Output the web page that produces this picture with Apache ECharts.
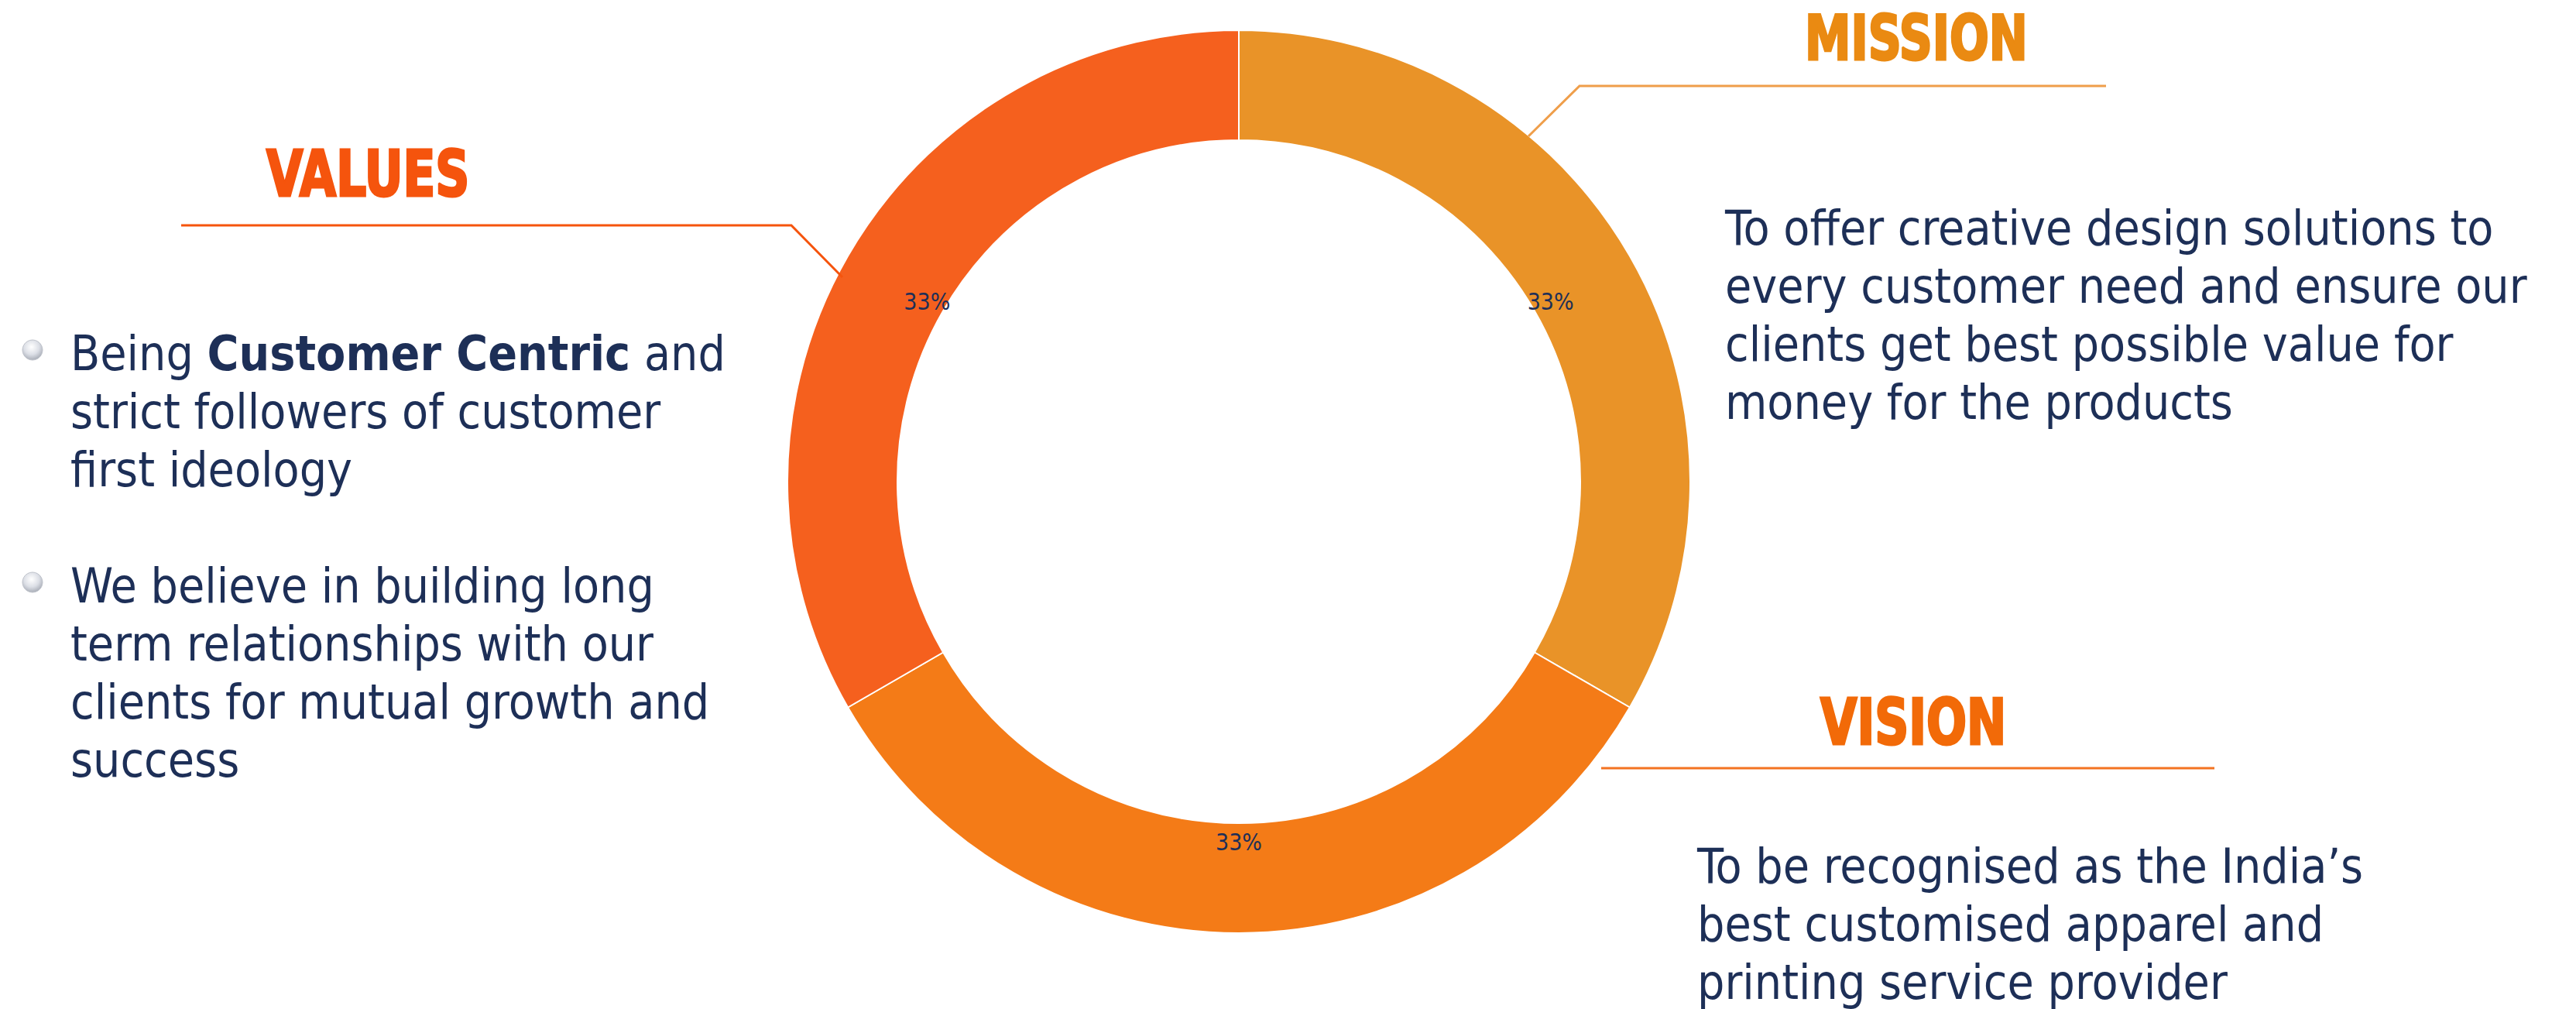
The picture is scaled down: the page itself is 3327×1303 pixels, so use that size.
<!DOCTYPE html>
<html><head><meta charset="utf-8">
<script src="https://cdn.jsdelivr.net/npm/echarts@6/dist/echarts.min.js"></script>
<style>html,body{margin:0;padding:0;background:#fff}#c{width:3327px;height:1303px}</style>
</head><body><div id="c"></div>
<script>
// ---- data ----
const categories = ['MISSION', 'VISION', 'VALUES'];
const shares = [1, 1, 1];
const sliceColors = ['#E99328', '#F47B17', '#F5601E'];
const headingColors = ['#EA8A12', '#F26A08', '#F5540D'];
const missionLines = [
  'To offer creative design solutions to',
  'every customer need and ensure our',
  'clients get best possible value for',
  'money for the products'
];
const visionLines = [
  'To be recognised as the India\u2019s',
  'best customised apparel and',
  'printing service provider'
];
const valuesParagraphs = [
  ['Being {b|Customer Centric} and', 'strict followers of customer', 'first ideology'],
  ['We believe in building long', 'term relationships with our', 'clients for mutual growth and', 'success']
];

// ---- rendering ----
const FONT = "'DejaVu Sans Condensed','Liberation Sans Narrow','DejaVu Sans',sans-serif";
const TEXT_COLOR = '#1D2F57';
const BODY_SIZE = 62;
const LINE_H = 75;
const total = shares.reduce((a, b) => a + b, 0);

const chart = echarts.init(document.getElementById('c'), null, { renderer: 'svg' });

const graphics = [];
function heading(txt, x, y, color, size) {
  graphics.push({
    type: 'text', x: x, y: y, scaleX: 0.83, z: 10,
    style: { text: txt, fill: color, stroke: color, lineWidth: 3, fontFamily: FONT, fontWeight: 'bold', fontSize: size,
      lineHeight: 64, align: 'left', verticalAlign: 'middle' }
  });
}
function lines(arr, x, y0) {
  arr.forEach((t, i) => {
    graphics.push({
      type: 'text', x: x, y: y0 + i * LINE_H, z: 10,
      style: {
        text: t, fill: TEXT_COLOR, fontFamily: FONT, fontSize: BODY_SIZE, lineHeight: 58, align: 'left', verticalAlign: 'middle',
        rich: { b: { fill: TEXT_COLOR, fontFamily: FONT, fontSize: BODY_SIZE, lineHeight: 58, fontWeight: 'bold' } }
      }
    });
  });
}
function rule(points, color) {
  graphics.push({ type: 'polyline', z: 5, shape: { points: points }, style: { stroke: color, lineWidth: 3, fill: null } });
}
function bullet(x, y) {
  graphics.push({
    type: 'circle', z: 10, shape: { cx: x, cy: y, r: 13 },
    style: {
      fill: { type: 'radial', x: 0.45, y: 0.35, r: 0.75, colorStops: [
        { offset: 0, color: '#ffffff' }, { offset: 0.5, color: '#dcdfe6' }, { offset: 1, color: '#979ca7' }] },
      stroke: '#bfc3cb', lineWidth: 1
    }
  });
}

// Mission
heading(categories[0], 2331, 49, headingColors[0], 80);
rule([[1974, 176], [2040, 111], [2720, 111]], '#EF9E4A');
lines(missionLines, 2228, 294);
// Vision
heading(categories[1], 2351, 933, headingColors[1], 82);
rule([[2068, 992], [2860, 992]], '#F37321');
lines(visionLines, 2192, 1118);
// Values
heading(categories[2], 344, 225, headingColors[2], 82);
rule([[234, 291], [1022, 291], [1088, 358]], '#F5540D');
let y = 456;
valuesParagraphs.forEach(p => {
  bullet(42, y - 4);
  lines(p, 91, y);
  y += (p.length + 1) * LINE_H;
});

const pieData = categories.map((c, i) => ({ name: c, value: shares[i], itemStyle: { color: sliceColors[i] } }));

chart.setOption({
  backgroundColor: '#ffffff',
  animation: false,
  series: [
    {
      type: 'pie', center: [1600, 622], radius: [441, 583], startAngle: 90, clockwise: true,
      itemStyle: { borderColor: '#ffffff', borderWidth: 2 },
      label: { show: false }, labelLine: { show: false }, silent: true,
      data: pieData
    },
    {
      type: 'pie', center: [1600, 622], radius: [441, 483], startAngle: 90, clockwise: true, z: 3,
      itemStyle: { color: 'rgba(0,0,0,0)', borderWidth: 0 },
      label: {
        show: true, position: 'inside', color: TEXT_COLOR, fontFamily: FONT, fontSize: 30,
        formatter: p => Math.round(p.value / total * 100) + '%'
      },
      labelLine: { show: false }, silent: true,
      data: categories.map((c, i) => ({ name: c, value: shares[i] }))
    }
  ],
  graphic: graphics
});
</script>
</body></html>
